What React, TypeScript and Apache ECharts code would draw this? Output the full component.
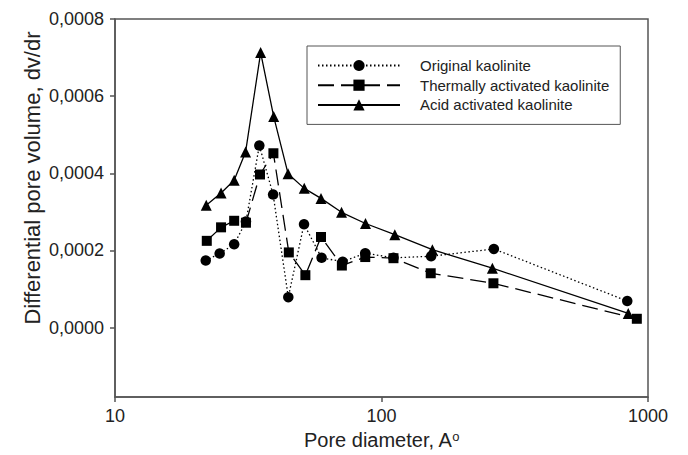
import React, { useEffect, useRef } from "react";
import * as echarts from "echarts";

const seriesNames = ["Original kaolinite", "Thermally activated kaolinite", "Acid activated kaolinite"];

const origX = [21.9, 24.7, 28.0, 31.0, 34.8, 39.2, 44.7, 51.2, 59.6, 71.5, 86.9, 110.9, 153.5, 264, 836];
const origY = [0.000174, 0.000192, 0.000216, 0.000275, 0.000472, 0.000345, 0.000079, 0.000268, 0.000181, 0.000171, 0.000193, 0.000181, 0.000185, 0.000204, 0.000069];

const thermX = [22.1, 25.0, 28.0, 31.0, 35.0, 39.3, 44.9, 51.8, 59.3, 71.0, 86.9, 110.9, 153, 263, 908];
const thermY = [0.000225, 0.00026, 0.000277, 0.000272, 0.000397, 0.000452, 0.000195, 0.000136, 0.000235, 0.000161, 0.000183, 0.00018, 0.000141, 0.000115, 0.000023];

const acidX = [22.0, 25.0, 28.0, 30.9, 35.2, 39.4, 44.6, 51.3, 59.3, 70.8, 87.1, 112.2, 155.2, 260.6, 843];
const acidY = [0.000317, 0.000349, 0.000382, 0.000455, 0.000713, 0.000547, 0.000399, 0.000361, 0.000335, 0.000299, 0.00027, 0.000241, 0.000202, 0.000154, 0.000037];

const yTicks = [0, 0.0002, 0.0004, 0.0006, 0.0008];

const FONT = "'Liberation Sans', Arial, sans-serif";
const AXIS = "#555";

function zip(xs: number[], ys: number[]) {
  return xs.map((x, i) => [x, ys[i]]);
}

export default function App() {
  const ref = useRef<HTMLDivElement>(null);
  useEffect(() => {
    if (!ref.current) return;
    const chart = echarts.init(ref.current, undefined, { renderer: "svg" });
    chart.setOption({
      animation: false,
      backgroundColor: "#fff",
      textStyle: { fontFamily: FONT },
      grid: {
        left: 115,
        right: 40,
        top: 19,
        bottom: 52.3,
        show: true,
        borderColor: AXIS,
        borderWidth: 1.5,
        containLabel: false,
      },
      legend: {
        orient: "vertical",
        left: 307,
        top: 46,
        padding: [12, 11, 12, 10],
        borderColor: AXIS,
        borderWidth: 1,
        itemWidth: 82,
        itemHeight: 14,
        itemGap: 4.7,
        textStyle: { fontSize: 15, color: "#222", fontFamily: FONT, padding: [0, 0, 0, 15] },
        data: seriesNames,
      },
      xAxis: {
        type: "log",
        logBase: 10,
        min: 10,
        max: 1000,
        name: "Pore diameter, A{s|o}",
        nameLocation: "middle",
        nameGap: 31,
        nameTextStyle: {
          fontSize: 20,
          color: "#222",
          fontFamily: FONT,
          rich: { s: { fontSize: 13, verticalAlign: "top", color: "#222", fontFamily: FONT, padding: [0, 0, 6, 0] } },
        },
        axisLine: { show: true, onZero: false, lineStyle: { color: AXIS, width: 1.5 } },
        axisTick: { show: true, inside: false, length: 5, lineStyle: { color: AXIS, width: 1.5 } },
        minorTick: { show: false },
        axisLabel: { fontSize: 18, color: "#222", margin: 10, fontFamily: FONT, formatter: (v: number) => String(Math.round(v)) },
        splitLine: { show: false },
      },
      yAxis: {
        type: "value",
        min: -0.00018,
        max: 0.0008,
        axisLine: { show: true, onZero: false, lineStyle: { color: AXIS, width: 1.5 } },
        axisTick: { show: true, inside: false, length: 5, customValues: yTicks, lineStyle: { color: AXIS, width: 1.5 } },
        axisLabel: {
          fontSize: 18,
          color: "#222",
          margin: 11,
          fontFamily: FONT,
          customValues: yTicks,
          formatter: (v: number) => v.toFixed(4).replace(".", ","),
        },
        splitLine: { show: false },
      },
      graphic: [
        {
          type: "text",
          x: 32,
          y: 178,
          rotation: Math.PI / 2,
          style: {
            text: "Differential pore volume, dv/dr",
            font: `22px ${FONT}`,
            fill: "#222",
            textAlign: "center",
            textVerticalAlign: "middle",
          },
        },
      ],
      series: [
        {
          name: seriesNames[0],
          type: "line",
          data: zip(origX, origY),
          symbol: "circle",
          symbolSize: 10.5,
          itemStyle: { color: "#000" },
          lineStyle: { color: "#000", width: 1.3, type: [1.5, 2.5] },
        },
        {
          name: seriesNames[1],
          type: "line",
          data: zip(thermX, thermY),
          symbol: "rect",
          symbolSize: 10,
          itemStyle: { color: "#000" },
          lineStyle: { color: "#000", width: 1.3, type: [16, 7] },
        },
        {
          name: seriesNames[2],
          type: "line",
          data: zip(acidX, acidY),
          symbol: "triangle",
          symbolSize: 11,
          itemStyle: { color: "#000" },
          lineStyle: { color: "#000", width: 1.3, type: "solid" },
        },
      ],
    });
    return () => chart.dispose();
  }, []);
  return <div ref={ref} style={{ position: "fixed", left: 0, top: 0, width: 688, height: 455 }} />;
}
